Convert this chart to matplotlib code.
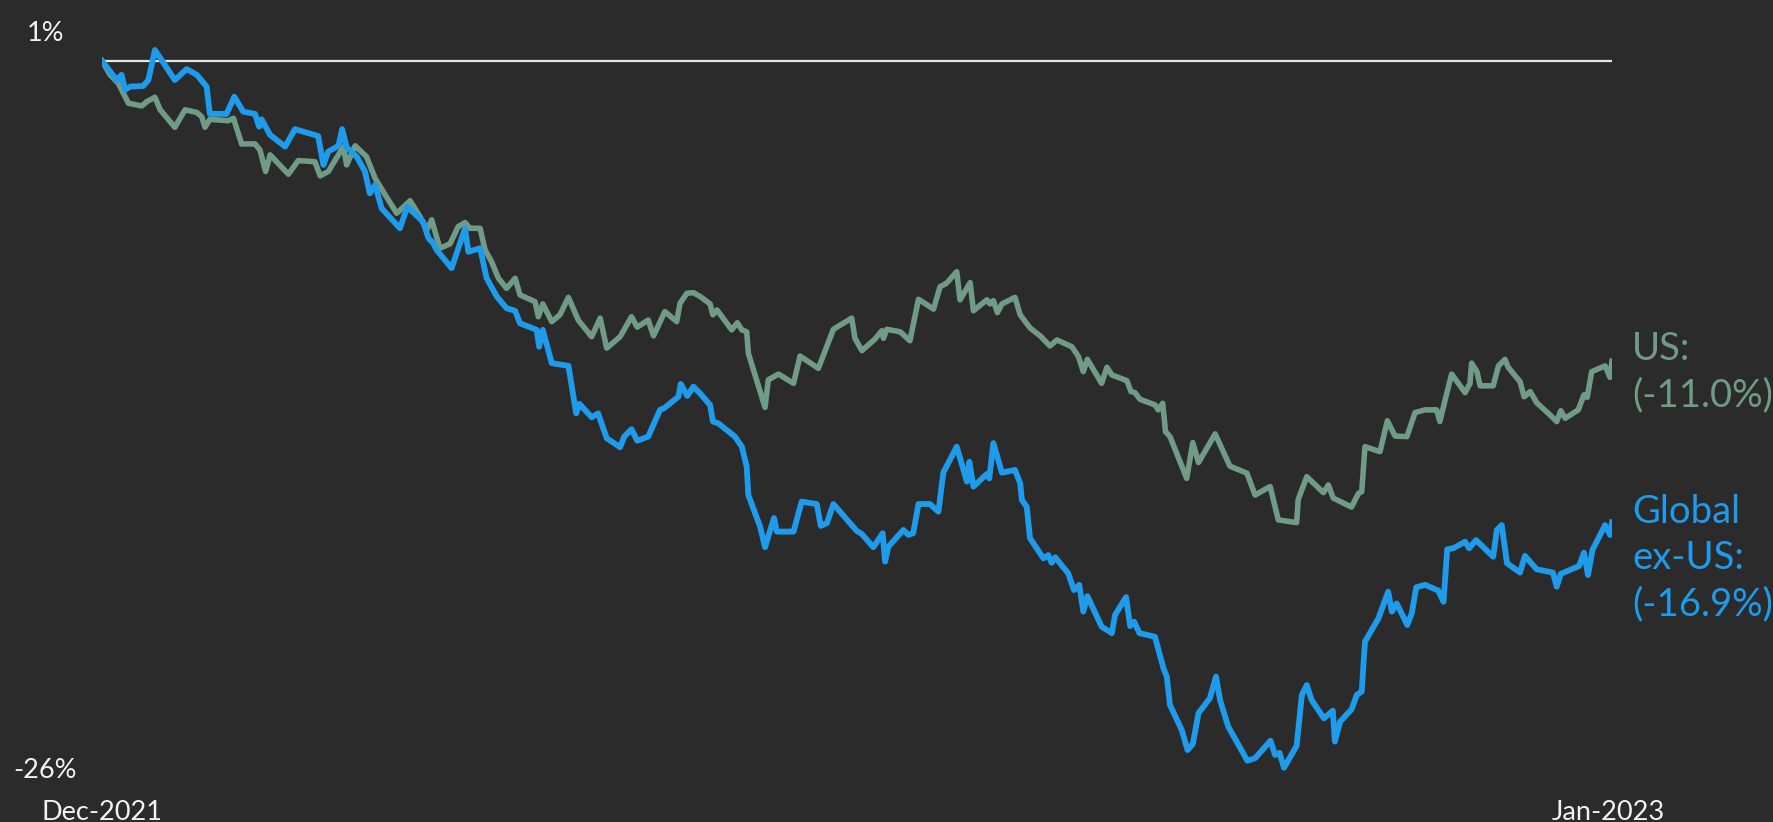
import matplotlib
matplotlib.use("Agg")
import matplotlib.pyplot as plt
import matplotlib.transforms as mtransforms
import pandas as pd

# --- data (cumulative return, %) ---
START = pd.Timestamp("2021-12-31")
END = pd.Timestamp("2023-01-06")

us_days = [0, 2.0, 4.0, 6.5, 9.8, 11.0, 13.0, 14.3, 17.9, 20.4, 23.3, 24.5, 25.3, 26.5,
           31.0, 32.3, 34.3, 37.6, 38.8, 40.2, 41.3, 45.8, 48.2, 52.3, 53.6, 55.6, 59.3,
           60.1, 62.2, 65.0, 67.1, 69.1, 72.4, 75.7, 78.1, 79.8, 81.0, 83.0, 85.5, 87.5,
           89.2, 90.4, 92.9, 94.1, 95.7, 97.4, 99.4, 101.5, 102.7, 106.4, 107.2, 108.3,
           110.5, 112.5, 114.6, 117.0, 120.3, 122.4, 124.0, 127.3, 130.1, 131.5, 134.2,
           135.5, 138.3, 141.2, 142.0, 143.7, 145.3, 147.0, 149.4, 150.1, 151.1, 154.7,
           156.1, 157.2, 158.4, 158.8, 162.9, 163.7, 166.2, 169.9, 171.5, 176.0, 179.7,
           184.2, 185.0, 186.7, 189.9, 191.6, 192.0, 192.8, 196.1, 198.5, 200.6, 204.3,
           205.9, 207.5, 210.0, 210.8, 213.3, 214.1, 217.4, 218.2, 219.0, 220.0, 221.1,
           224.3, 225.6, 228.0, 230.5, 232.9, 234.6, 238.3, 239.9, 241.1, 242.1, 245.6,
           246.9, 248.1, 251.8, 252.8, 253.8, 255.0, 258.7, 259.5, 260.6, 261.3, 262.4,
           266.5, 268.0, 269.4, 273.5, 277.1, 281.3, 283.3, 287.0, 289.0, 293.5, 293.9,
           296.0, 300.1, 301.3, 302.5, 307.0, 308.7, 309.5, 310.3, 314.0, 315.8, 317.7,
           320.6, 322.6, 325.1, 327.9, 328.7, 330.4, 331.6, 334.9, 336.1, 336.5, 337.8,
           338.6, 341.8, 343.1, 344.7, 345.5, 348.4, 349.4, 350.9, 352.5, 355.8, 357.4,
           358.4, 359.5, 362.7, 364.1, 364.9, 366.0, 369.3, 370.5, 371.0]
us_vals = [0.0, -0.51, -0.82, -1.55, -1.65, -1.49, -1.33, -1.79, -2.43, -1.79, -1.89, -2.04,
           -2.43, -2.14, -2.19, -2.10, -3.04, -3.04, -3.26, -4.05, -3.44, -4.15, -3.65, -3.69,
           -4.21, -4.05, -3.14, -3.81, -3.11, -3.51, -4.30, -4.79, -5.58, -5.12, -5.70, -6.19,
           -5.82, -6.86, -6.70, -6.07, -5.92, -6.13, -6.13, -6.92, -7.35, -7.96, -8.33, -7.96,
           -8.57, -8.82, -9.37, -8.90, -9.55, -9.30, -8.66, -9.49, -10.10, -9.42, -10.52,
           -10.10, -9.37, -9.75, -9.49, -10.07, -9.18, -9.55, -8.88, -8.51, -8.49, -8.63,
           -8.90, -9.30, -9.12, -9.85, -9.59, -9.85, -9.92, -10.71, -12.69, -11.68, -11.47,
           -11.81, -10.81, -11.26, -9.83, -9.42, -10.16, -10.61, -10.19, -9.88, -10.16, -9.83,
           -9.92, -10.25, -8.73, -9.09, -8.27, -8.14, -7.72, -8.75, -8.12, -9.15, -8.75, -8.90,
           -8.78, -9.22, -8.90, -8.66, -9.30, -9.78, -10.07, -10.44, -10.22, -10.47, -10.83,
           -11.38, -10.93, -11.81, -11.22, -11.50, -11.71, -12.11, -12.15, -12.39, -12.60,
           -12.78, -12.54, -13.58, -13.76, -15.29, -13.98, -14.71, -13.66, -14.84, -15.10,
           -15.90, -15.59, -16.81, -16.91, -16.06, -15.23, -15.81, -15.53, -16.01, -16.34,
           -15.84, -15.78, -14.13, -14.31, -13.18, -13.74, -13.76, -12.88, -12.78, -12.78,
           -13.21, -12.17, -11.47, -12.15, -11.81, -11.07, -11.38, -11.90, -11.90, -11.17,
           -10.93, -11.22, -11.75, -12.30, -12.11, -12.52, -12.97, -13.21, -12.81, -13.09,
           -12.78, -12.23, -12.32, -11.38, -11.17, -11.59, -11.0]

gx_days = [0, 3.6, 4.8, 5.7, 6.9, 10.1, 11.4, 13.0, 17.9, 20.8, 23.3, 25.7, 26.5, 30.6,
           32.5, 34.7, 37.6, 38.6, 39.2, 41.3, 45.0, 47.4, 53.1, 54.4, 55.6, 58.1, 59.0,
           60.1, 62.6, 64.6, 65.8, 67.1, 68.7, 73.2, 75.0, 78.9, 80.2, 81.4, 82.2, 85.9,
           89.2, 90.0, 92.9, 94.5, 97.0, 99.4, 101.5, 102.7, 106.8, 107.4, 108.3, 110.5,
           114.6, 116.5, 117.3, 120.3, 121.9, 124.0, 127.3, 128.3, 130.1, 131.5, 134.2,
           137.1, 138.1, 141.6, 142.2, 143.8, 145.3, 146.9, 149.4, 150.1, 151.4, 155.5,
           157.2, 158.4, 158.8, 161.7, 162.9, 165.1, 165.8, 169.9, 171.9, 175.6, 176.6,
           178.1, 179.7, 185.4, 186.7, 189.5, 191.8, 192.4, 193.2, 196.9, 198.1, 199.3,
           200.6, 203.4, 205.5, 206.7, 210.0, 212.5, 213.1, 214.1, 217.4, 218.0, 219.0,
           221.1, 224.3, 225.6, 226.0, 227.2, 228.0, 231.3, 232.5, 233.3, 234.2, 237.4,
           238.8, 240.1, 241.1, 242.1, 245.6, 248.1, 248.9, 251.6, 252.6, 253.6, 254.9,
           258.7, 259.9, 260.8, 261.6, 262.4, 265.3, 266.7, 268.0, 269.4, 272.2, 273.7,
           274.7, 276.7, 281.4, 283.3, 287.1, 288.2, 289.3, 290.4, 293.5, 294.8, 296.0,
           297.2, 300.2, 302.4, 302.9, 304.2, 307.0, 308.3, 309.5, 310.3, 313.6, 316.0,
           316.9, 318.1, 320.7, 321.8, 322.9, 325.1, 328.3, 329.6, 330.5, 332.0, 334.9,
           335.9, 337.6, 341.8, 342.7, 343.9, 345.2, 348.4, 349.6, 352.5, 356.5, 357.4,
           358.4, 362.9, 364.1, 365.1, 366.2, 369.3, 370.5, 371.0]
gx_vals = [0.0, -0.70, -0.51, -1.06, -0.94, -0.92, -0.70, 0.40, -0.70, -0.30, -0.51, -0.94,
           -1.94, -1.94, -1.31, -1.86, -1.94, -2.41, -2.14, -2.71, -3.14, -2.50, -2.75, -3.81,
           -3.32, -3.11, -2.50, -3.16, -3.51, -4.05, -4.85, -4.54, -5.40, -6.13, -5.34, -5.89,
           -6.49, -6.68, -6.92, -7.59, -6.13, -6.99, -6.86, -7.96, -8.63, -9.06, -9.15, -9.61,
           -9.85, -10.47, -9.85, -11.07, -11.17, -12.91, -12.56, -13.05, -12.91, -13.82,
           -14.15, -13.76, -13.49, -13.91, -13.76, -12.78, -12.72, -12.30, -11.83, -12.27,
           -11.93, -12.17, -12.60, -13.21, -13.27, -13.76, -14.13, -14.86, -15.90, -17.06,
           -17.81, -16.74, -17.24, -17.24, -16.14, -16.23, -17.03, -16.93, -16.23, -17.21,
           -17.33, -17.81, -17.30, -18.34, -17.79, -17.18, -17.36, -17.30, -16.23, -16.23,
           -16.51, -15.08, -14.13, -15.41, -14.68, -15.59, -15.13, -15.29, -14.00, -15.08,
           -14.98, -15.47, -16.08, -16.33, -17.48, -18.22, -18.10, -18.38, -18.18, -18.77,
           -19.38, -19.19, -20.17, -19.60, -20.72, -20.96, -20.29, -19.64, -20.70, -20.54,
           -20.96, -21.09, -21.76, -22.25, -22.55, -23.59, -24.51, -25.24, -25.02, -23.89,
           -23.34, -22.55, -23.41, -24.38, -25.63, -25.54, -24.90, -25.42, -25.34, -25.89,
           -25.09, -23.22, -22.86, -23.41, -24.08, -23.80, -24.93, -24.20, -23.75, -23.22,
           -23.10, -21.27, -20.42, -19.44, -20.17, -19.87, -20.66, -20.23, -19.28, -19.19,
           -19.40, -19.81, -17.89, -17.85, -17.61, -17.85, -17.55, -18.16, -17.18, -17.00,
           -18.40, -18.74, -18.13, -18.62, -18.74, -19.26, -18.79, -18.50, -18.01, -18.83,
           -17.91, -17.00, -17.36, -16.9]

y_ticks = [1, -26]
y_tick_labels = ["1%", "-26%"]
x_tick_labels = ["Dec-2021", "Jan-2023"]

# --- style ---
BG = "#2b2b2b"
GREEN = "#709b87"
BLUE = "#1e9beb"
TXT = "#f2f2f2"
plt.rcParams["font.family"] = ["Lato", "DejaVu Sans"]

us_dates = START + pd.to_timedelta(us_days, unit="D")
gx_dates = START + pd.to_timedelta(gx_days, unit="D")

fig = plt.figure(figsize=(17.74, 8.22), dpi=100, facecolor=BG)
ax = fig.add_axes([0.0575, 0.0623, 0.8512, 0.8968])
ax.set_facecolor(BG)

ax.axhline(0, color="#e6e6e6", lw=1.6, zorder=1)
ax.plot(us_dates, us_vals, color=GREEN, lw=4.0, solid_joinstyle="round", zorder=2)
ax.plot(gx_dates, gx_vals, color=BLUE, lw=4.2, solid_joinstyle="round", zorder=3)

ax.set_xlim(START, END)
ax.set_ylim(min(y_ticks), max(y_ticks))
for s in ax.spines.values():
    s.set_visible(False)
ax.set_xticks([])
ax.set_yticks([])

# axis end labels
ytrans = mtransforms.blended_transform_factory(ax.transAxes, ax.transData)
for v, lab in zip(y_ticks, y_tick_labels):
    ax.text(-0.0375, v, lab, transform=ytrans, ha="center", va="center",
            color=TXT, fontsize=19.5, clip_on=False)

xtrans = mtransforms.blended_transform_factory(ax.transData, ax.transAxes)
for d, lab in zip([START, END - pd.Timedelta(days=1)], x_tick_labels):
    ax.text(d, -0.056, lab, transform=xtrans, ha="center", va="center",
            color=TXT, fontsize=19.5, clip_on=False)

# series labels at the right end
ax.text(1.0132, -11.4, "US:\n(-11.0%)", transform=ytrans, ha="left", va="center",
        color=GREEN, fontsize=27.5, linespacing=1.35, clip_on=False)
ax.text(1.0132, -18.2, "Global\nex-US:\n(-16.9%)", transform=ytrans, ha="left",
        va="center", color=BLUE, fontsize=27.5, linespacing=1.35, clip_on=False)

fig.savefig("out.png", dpi=100, facecolor=BG)
